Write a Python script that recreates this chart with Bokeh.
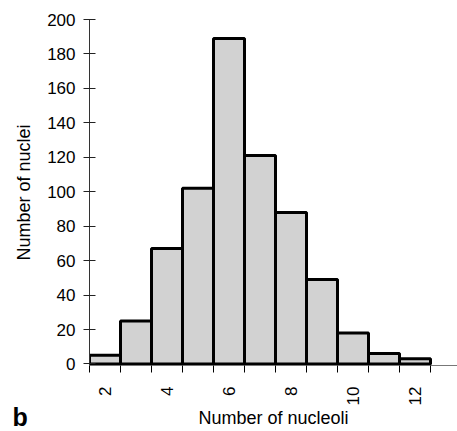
import math
from bokeh.plotting import figure
from bokeh.models import FixedTicker, Title, Range1d
from bokeh.embed import file_html
from bokeh.resources import INLINE

# Data
nucleoli = [2, 3, 4, 5, 6, 7, 8, 9, 10, 11, 12]
nuclei_counts = [5, 25, 67, 102, 189, 121, 88, 49, 18, 6, 3]
x_tick_values = [2, 4, 6, 8, 10, 12]
x_edge_ticks = [1.5, 2.5, 3.5, 4.5, 5.5, 6.5, 7.5, 8.5, 9.5, 10.5, 11.5, 12.5]
y_tick_values = [0, 20, 40, 60, 80, 100, 120, 140, 160, 180, 200]

FONT = "Liberation Sans"

p = figure(width=457, height=431, output_backend="svg", toolbar_location=None,
           x_range=Range1d(1.5, 13.37), y_range=Range1d(-0.9, 200),
           min_border_left=89, min_border_right=0, min_border_top=19,
           min_border_bottom=65)
p.outline_line_color = None
p.xgrid.visible = False
p.ygrid.visible = False
p.background_fill_color = "white"
p.border_fill_color = "white"

p.vbar(x=nucleoli, top=nuclei_counts, width=1.0, bottom=0,
       fill_color="#d2d2d2", line_color="black", line_width=3)

# x axis
xa = p.xaxis[0]
xa.ticker = FixedTicker(ticks=x_tick_values, minor_ticks=x_edge_ticks)
xa.major_tick_out = 0
xa.major_tick_in = 0
xa.minor_tick_out = 7
xa.minor_tick_in = 0
xa.minor_tick_line_color = "black"
xa.minor_tick_line_width = 1
xa.axis_line_color = "#777777"
xa.axis_line_width = 1
xa.major_label_orientation = math.pi / 2
xa.major_label_standoff = 14
xa.major_label_text_font = FONT
xa.major_label_text_font_size = "17px"
xa.major_label_text_color = "black"
xa.axis_label = "Number of nucleoli"
xa.axis_label_text_font = FONT
xa.axis_label_text_font_size = "18px"
xa.axis_label_text_font_style = "normal"
xa.axis_label_text_color = "black"
xa.axis_label_standoff = 0

# y axis
ya = p.yaxis[0]
ya.ticker = FixedTicker(ticks=y_tick_values)
ya.minor_tick_line_color = None
ya.major_tick_in = 6
ya.major_tick_out = 6
ya.major_tick_line_color = "#222222"
ya.axis_line_color = "#333333"
ya.axis_line_width = 1
ya.major_label_standoff = 8
ya.major_label_text_font = FONT
ya.major_label_text_font_size = "17px"
ya.major_label_text_color = "black"
ya.axis_label = "Number of nuclei"
ya.axis_label_text_font = FONT
ya.axis_label_text_font_size = "18px"
ya.axis_label_text_font_style = "normal"
ya.axis_label_text_color = "black"
ya.axis_label_standoff = 10

panel = Title(text="b", align="left", vertical_align="top", offset=-77,
              standoff=-58, text_font=FONT, text_font_size="25px",
              text_font_style="bold", text_color="black")
p.add_layout(panel, "below")

open("out.html", "w").write(file_html(p, INLINE))
